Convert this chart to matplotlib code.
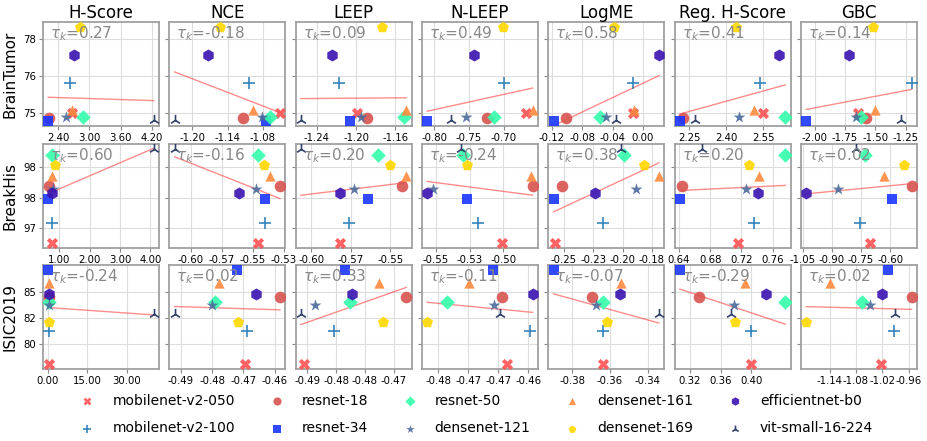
import numpy as np
import matplotlib
matplotlib.use('Agg')
import matplotlib.pyplot as plt

# --- data ---
models = ['mobilenet-v2-050', 'mobilenet-v2-100', 'resnet-18', 'resnet-34', 'resnet-50',
          'densenet-121', 'densenet-161', 'densenet-169', 'efficientnet-b0', 'vit-small-16-224']
markers = ['X', '+', 'o', 's', 'D', '*', '^', 'p', 'h', '2']
colors = ['#ff5252', '#1f77b4', '#d9534f', '#1a35ff', '#33ffaa', '#4b6c9c',
          '#ff8a3d', '#ffd700', '#3a12b0', '#1c2e5a']
sizes = [65, 65, 70, 60, 55, 80, 55, 70, 75, 65]

metrics = ['H-Score', 'NCE', 'LEEP', 'N-LEEP', 'LogME', 'Reg. H-Score', 'GBC']
datasets = ['BrainTumor', 'BreakHis', 'ISIC2019']

# accuracy of each model (same order as models)
acc_braintumor = [74.99, 76.21, 74.81, 74.67, 74.84, 74.84, 75.15, 78.50, 77.35, 74.74]
acc_breakhis = [96.76, 97.09, 97.69, 97.48, 98.20, 97.64, 97.85, 98.04, 97.57, 98.29]
acc_isic = [78.08, 81.26, 84.46, 87.07, 83.97, 83.70, 85.83, 82.13, 84.76, 82.83]

# transferability scores, one list per metric
bt_scores = [
    [2.66, 2.63, 2.23, 2.21, 2.87, 2.55, 2.66, 2.81, 2.70, 4.23],
    [-1.051, -1.103, -1.113, -1.074, -1.068, -1.082, -1.097, -1.153, -1.174, -1.230],
    [-1.199, -1.217, -1.189, -1.206, -1.151, -1.195, -1.149, -1.174, -1.224, -1.256],
    [-0.667, -0.699, -0.724, -0.810, -0.713, -0.754, -0.658, -0.701, -0.742, -0.775],
    [-0.013, -0.013, -0.102, -0.118, -0.057, -0.049, -0.012, -0.038, 0.021, -0.035],
    [2.550, 2.536, 2.223, 2.212, 2.638, 2.453, 2.512, 2.437, 2.611, 2.273],
    [-1.639, -1.200, -1.575, -2.069, -1.619, -1.658, -1.500, -1.514, -1.714, -1.286],
]
bh_scores = [
    [0.74, 0.74, 0.65, 0.63, 0.76, 0.78, 0.76, 0.84, 0.76, 4.11],
    [-0.546, -0.540, -0.528, -0.540, -0.546, -0.547, -0.536, -0.541, -0.561, -0.613],
    [-0.582, -0.576, -0.543, -0.564, -0.558, -0.573, -0.540, -0.550, -0.582, -0.6065],
    [-0.501, -0.519, -0.478, -0.527, -0.530, -0.5525, -0.479, -0.527, -0.5565, -0.5315],
    [-0.2577, -0.2165, -0.252, -0.259, -0.1986, -0.189, -0.169, -0.182, -0.2236, -0.2014],
    [0.7158, 0.736, 0.6435, 0.641, 0.7764, 0.7257, 0.743, 0.7292, 0.7418, 0.670],
    [-0.705, -0.757, -0.490, -0.593, -0.728, -0.870, -0.633, -0.528, -1.033, -0.775],
]
isic_scores = [
    [0.6, 0.5, 0.4, 0.2, 0.6, 0.4, 0.5, 0.5, 0.3, 40.1],
    [-0.4694, -0.4689, -0.4584, -0.4721, -0.4791, -0.4800, -0.4777, -0.4718, -0.4659, -0.4919],
    [-0.4905, -0.4854, -0.4728, -0.4835, -0.4825, -0.4886, -0.4775, -0.4769, -0.4822, -0.4911],
    [-0.4686, -0.4647, -0.4694, -0.4708, -0.4785, -0.4707, -0.4749, -0.4818, -0.4643, -0.4697],
    [-0.3635, -0.3638, -0.3696, -0.3898, -0.3635, -0.3675, -0.3540, -0.3617, -0.3548, -0.3342],
    [0.400, 0.3994, 0.3318, 0.3068, 0.4445, 0.377, 0.392, 0.3789, 0.4189, 0.374],
    [-1.0226, -0.9932, -0.954, -1.0077, -1.0658, -1.049, -1.140, -1.193, -1.021, -0.991],
]

# Kendall tau shown in each panel
tau_bt = ['0.27', '-0.18', '0.09', '0.49', '0.58', '0.41', '0.14']
tau_bh = ['0.60', '-0.16', '0.20', '-0.24', '0.38', '0.20', '0.02']
tau_isic = ['-0.24', '0.02', '0.33', '-0.11', '-0.07', '-0.29', '0.02']

# x ticks / labels as printed
xt_bt = [[2.4, 3.0, 3.6, 4.2], [-1.20, -1.14, -1.08], [-1.24, -1.20, -1.16], [-0.80, -0.75, -0.70],
         [-0.12, -0.08, -0.04, 0.0], [2.25, 2.40, 2.55], [-2.0, -1.75, -1.5, -1.25]]
xl_bt = [['2.40', '3.00', '3.60', '4.20'], ['-1.20', '-1.14', '-1.08'], ['-1.24', '-1.20', '-1.16'],
         ['-0.80', '-0.75', '-0.70'], ['-0.12', '-0.08', '-0.04', '0.00'], ['2.25', '2.40', '2.55'],
         ['-2.00', '-1.75', '-1.50', '-1.25']]
xt_bh = [[1, 2, 3, 4], [-0.60, -0.575, -0.55, -0.525], [-0.60, -0.575, -0.55], [-0.55, -0.525, -0.50],
         [-0.25, -0.225, -0.20, -0.175], [0.64, 0.68, 0.72, 0.76], [-1.05, -0.90, -0.75, -0.60]]
xl_bh = [['1.00', '2.00', '3.00', '4.00'], ['-0.60', '-0.57', '-0.55', '-0.53'], ['-0.60', '-0.57', '-0.55'],
         ['-0.55', '-0.53', '-0.50'], ['-0.25', '-0.23', '-0.20', '-0.18'], ['0.64', '0.68', '0.72', '0.76'],
         ['-1.05', '-0.90', '-0.75', '-0.60']]
xt_isic = [[0, 15, 30], [-0.49, -0.48, -0.47, -0.46], [-0.49, -0.485, -0.48, -0.475],
           [-0.48, -0.475, -0.47, -0.465], [-0.38, -0.36, -0.34], [0.32, 0.36, 0.40],
           [-1.14, -1.08, -1.02, -0.96]]
xl_isic = [['0.00', '15.00', '30.00'], ['-0.49', '-0.48', '-0.47', '-0.46'], ['-0.49', '-0.48', '-0.48', '-0.47'],
           ['-0.48', '-0.47', '-0.47', '-0.46'], ['-0.38', '-0.36', '-0.34'], ['0.32', '0.36', '0.40'],
           ['-1.14', '-1.08', '-1.02', '-0.96']]

yt = [[75, 76.5, 78], [97, 97.5, 98], [80, 82.5, 85]]
yl = [['75', '76', '78'], ['97', '98', '98'], ['80', '82', '85']]

rows = [
    (acc_braintumor, bt_scores, tau_bt, xt_bt, xl_bt),
    (acc_breakhis, bh_scores, tau_bh, xt_bh, xl_bh),
    (acc_isic, isic_scores, tau_isic, xt_isic, xl_isic),
]

# --- plot ---
fig, axes = plt.subplots(3, 7, figsize=(9.28, 4.41), dpi=100, sharey='row')
fig.subplots_adjust(left=0.0463, right=0.988, top=0.950, bottom=0.163, wspace=0.089, hspace=0.168)

for r, (acc, scores, taus, xts, xls) in enumerate(rows):
    for c in range(7):
        ax = axes[r, c]
        x = np.array(scores[c])
        y = np.array(acc)
        for i in range(len(models)):
            ax.scatter(x[i], y[i], marker=markers[i], color=colors[i], s=sizes[i],
                       alpha=0.9, linewidths=1.2 if markers[i] in ('+', '2') else 0,
                       label=models[i], zorder=3)
        k, b = np.polyfit(x, y, 1)
        xs = np.array([x.min(), x.max()])
        ax.plot(xs, k * xs + b, color='#ff4040', alpha=0.6, lw=1, zorder=2)

        xlim = ax.get_xlim()
        ax.set_xticks(xts[c])
        ax.set_xticklabels(xls[c])
        ax.set_xlim(xlim)

        ax.text(0.06, 0.885, r'$\tau_k$=' + taus[c], transform=ax.transAxes,
                color='#888888', fontsize=11, va='center')

        ax.grid(True, color='#dddddd', lw=0.8, zorder=0)
        ax.set_axisbelow(True)
        for s in ax.spines.values():
            s.set_color('#a0a0a0')
            s.set_linewidth(1.3)
        ax.tick_params(labelsize=7.3, length=3, color='#888888', pad=2)
        if r == 0:
            ax.set_title(metrics[c], fontsize=12, pad=3)
        if c == 0:
            ax.set_ylabel(datasets[r], fontsize=11)
            ylim = ax.get_ylim()
            ax.set_yticks(yt[r])
            ax.set_yticklabels(yl[r])
            ax.set_ylim(ylim)

handles, labels = axes[0, 0].get_legend_handles_labels()
fig.legend(handles, labels, loc='center', bbox_to_anchor=(0.51, 0.06), ncol=5,
           frameon=False, fontsize=10, markerscale=0.7, labelspacing=1.0)

plt.savefig('out.png', dpi=100)
